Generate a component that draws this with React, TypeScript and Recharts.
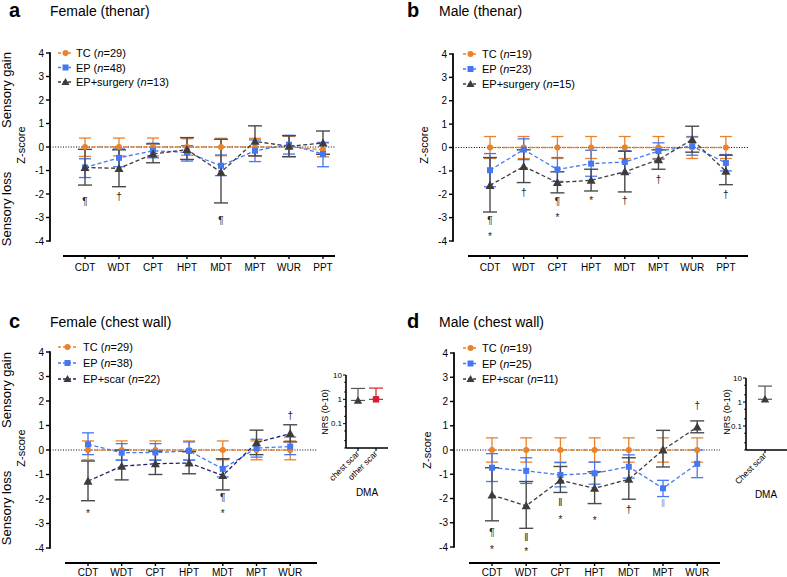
import React from "react";
import { ComposedChart, Line, Scatter, XAxis, YAxis, ErrorBar, ReferenceLine } from "recharts";

const THENAR = ["CDT", "WDT", "CPT", "HPT", "MDT", "MPT", "WUR", "PPT"];
const CHEST = ["CDT", "WDT", "CPT", "HPT", "MDT", "MPT", "WUR"];

// a — female thenar
const aTcMean = [0, 0, 0, 0, 0, 0, 0, -0.12];
const aTcLow = [-0.4, -0.38, -0.38, -0.35, -0.37, -0.38, -0.42, -0.42];
const aTcHigh = [0.38, 0.38, 0.38, 0.35, 0.37, 0.37, 0.45, 0.2];
const aEpMean = [-0.87, -0.46, -0.16, -0.23, -0.8, -0.16, 0.1, -0.3];
const aEpLow = [-1.3, -0.84, -0.46, -0.6, -1.22, -0.62, -0.3, -0.84];
const aEpHigh = [-0.5, -0.08, 0.16, 0.06, -0.34, 0.3, 0.5, 0.18];
const aSurgMean = [-0.87, -0.91, -0.3, -0.11, -1.07, 0.24, 0.03, 0.17];
const aSurgLow = [-1.62, -1.69, -0.67, -0.53, -2.38, -0.38, -0.41, -0.31];
const aSurgHigh = [-0.1, -0.12, 0.13, 0.4, 0.33, 0.9, 0.48, 0.68];
const aMarks = [
  { cat: "CDT", y: -2.3, s: "¶" },
  { cat: "WDT", y: -2.12, s: "†" },
  { cat: "MDT", y: -3.12, s: "¶" },
];

// b — male thenar
const bTcMean = [0, 0, 0, 0, 0, 0, 0, 0];
const bTcLow = [-0.47, -0.47, -0.47, -0.47, -0.47, -0.47, -0.47, -0.47];
const bTcHigh = [0.47, 0.47, 0.47, 0.47, 0.47, 0.47, 0.47, 0.47];
const bEpMean = [-0.97, -0.09, -0.94, -0.69, -0.62, -0.15, 0.06, -0.66];
const bEpLow = [-1.68, -0.52, -1.45, -1.23, -1.1, -0.5, -0.33, -1.0];
const bEpHigh = [-0.26, 0.37, -0.43, -0.12, -0.14, 0.2, 0.45, -0.3];
const bSurgMean = [-1.62, -0.81, -1.5, -1.4, -1.04, -0.52, 0.34, -1.02];
const bSurgLow = [-2.76, -1.5, -1.94, -1.86, -1.9, -0.93, -0.2, -1.59];
const bSurgHigh = [-0.43, -0.1, -1.04, -0.93, -0.16, -0.1, 0.91, -0.33];
const bMarks = [
  { cat: "CDT", y: -3.12, s: "¶" },
  { cat: "CDT", y: -3.68, s: "*" },
  { cat: "WDT", y: -1.94, s: "†" },
  { cat: "CPT", y: -2.33, s: "¶" },
  { cat: "CPT", y: -2.9, s: "*" },
  { cat: "HPT", y: -2.14, s: "*" },
  { cat: "MDT", y: -2.26, s: "†" },
  { cat: "MPT", y: -1.37, s: "†" },
  { cat: "PPT", y: -2.0, s: "†" },
];

// c — female chest wall
const cTcMean = [0, 0, 0, 0, 0, 0, 0];
const cTcLow = [-0.4, -0.4, -0.4, -0.4, -0.4, -0.4, -0.4];
const cTcHigh = [0.37, 0.37, 0.37, 0.37, 0.37, 0.37, 0.37];
const cEpMean = [0.23, -0.11, -0.1, -0.04, -0.77, 0.08, 0.14];
const cEpLow = [-0.19, -0.42, -0.42, -0.42, -1.1, -0.29, -0.19];
const cEpHigh = [0.7, 0.26, 0.26, 0.33, -0.36, 0.44, 0.53];
const cScarMean = [-1.27, -0.66, -0.56, -0.53, -1.04, 0.3, 0.67];
const cScarLow = [-2.07, -1.22, -1.0, -0.97, -1.63, -0.19, 0.33];
const cScarHigh = [-0.45, 0.0, -0.05, -0.07, -0.36, 0.81, 1.03];
const cMarks = [
  { cat: "CDT", y: -2.48, s: "*" },
  { cat: "MDT", y: -1.93, s: "¶" },
  { cat: "MDT", y: -2.48, s: "*" },
  { cat: "WUR", y: 1.42, s: "†" },
];

// d — male chest wall
const dTcMean = [0, 0, 0, 0, 0, 0, 0];
const dTcLow = [-0.5, -0.5, -0.5, -0.5, -0.5, -0.5, -0.5];
const dTcHigh = [0.5, 0.5, 0.5, 0.5, 0.5, 0.5, 0.5];
const dEpMean = [-0.73, -0.86, -1.03, -0.96, -0.69, -1.58, -0.57];
const dEpLow = [-1.3, -1.38, -1.52, -1.41, -1.16, -1.92, -1.14];
const dEpHigh = [-0.15, -0.32, -0.52, -0.5, -0.2, -1.25, 0.0];
const dScarMean = [-1.86, -2.3, -1.25, -1.58, -1.21, 0.0, 0.95];
const dScarLow = [-2.92, -3.23, -1.75, -2.21, -2.03, -0.7, 0.71];
const dScarHigh = [-0.73, -1.3, -0.68, -0.9, -0.32, 0.81, 1.2];
const dMarks = [
  { cat: "CDT", y: -3.4, s: "¶" },
  { cat: "CDT", y: -4.0, s: "*" },
  { cat: "WDT", y: -3.6, s: "‖" },
  { cat: "WDT", y: -4.08, s: "*" },
  { cat: "CPT", y: -2.16, s: "‖" },
  { cat: "CPT", y: -2.75, s: "*" },
  { cat: "HPT", y: -2.82, s: "*" },
  { cat: "MDT", y: -2.44, s: "†" },
  { cat: "MPT", y: -2.2, s: "‖", by: "EP" },
  { cat: "WUR", y: 1.84, s: "†" },
];

// DMA insets (NRS 0-10, log scale)
const cDmaCats = ["chest scar", "other scar"];
const cDmaValue = [0.9, 1.0];
const cDmaUpper = [2.8, 2.9];
const dDmaCats = ["Chest scar"];
const dDmaValue = [1.3];
const dDmaUpper = [4.6];

const ORANGE = "#E8822C";
const BLUE = "#4677F2";
const GRAY = "#3c3c3c";
const NAVY = "#20206a";
const RED = "#d3202f";
const FONT = '"Liberation Sans", Arial, Helvetica, sans-serif';

const circleDot = (color: string) => (p: any) =>
  <circle key={`c${p.index}`} cx={p.cx} cy={p.cy} r={3} fill={color} />;
const squareDot = (color: string) => (p: any) =>
  <rect key={`s${p.index}`} x={p.cx - 3} y={p.cy - 3} width={6} height={6} fill={color} />;
const triPath = (cx: number, cy: number, s = 4.5) =>
  `M${cx},${cy - s} L${cx + s},${cy + s * 0.78} L${cx - s},${cy + s * 0.78} Z`;
const triDot = (color: string) => (p: any) =>
  <path key={`t${p.index}`} d={triPath(p.cx, p.cy)} fill={color} />;

function MarkText(p: any) {
  const s = p.payload.s;
  return (
    <text
      x={p.cx}
      y={p.cy}
      dy={s === "*" ? "0.6em" : "0.35em"}
      textAnchor="middle"
      fontSize={10}
      fill={p.payload.by === "EP" ? "#a0a0a0" : "#222"}
    >
      {s}
    </text>
  );
}

type Stat = { mean: number[]; low: number[]; high: number[] };
type Geo = {
  axisX: number; firstX: number; step: number; right: number;
  lineStart: number; y4: number; yM4: number; axisY: number; labelGap: number;
};

function Panel({ geo, cats, tc, ep, grp, grpLine, marks }: {
  geo: Geo; cats: string[]; tc: Stat; ep: Stat; grp: Stat; grpLine: string; marks: any[];
}) {
  const unit = (geo.yM4 - geo.y4) / 8;
  const xDomain = [(geo.axisX - geo.firstX) / geo.step, (geo.right - geo.firstX) / geo.step];
  const yDomain = [-4 - (geo.axisY - geo.yM4) / unit, 4];
  const lineStartIdx = (geo.lineStart - geo.firstX) / geo.step;
  const err = (s: Stat, i: number) => [s.mean[i] - s.low[i], s.high[i] - s.mean[i]];
  const rows = cats.map((c, i) => ({
    i,
    tc: tc.mean[i], tcErr: err(tc, i),
    ep: ep.mean[i], epErr: err(ep, i),
    grp: grp.mean[i], grpErr: err(grp, i),
  }));
  const markRows = marks.map((m) => ({ ...m, i: cats.indexOf(m.cat) }));
  const W = 40 + (geo.right - geo.axisX) + 6;
  const H = 10 + (geo.axisY - geo.y4) + 25;
  return (
    <div style={{ position: "absolute", left: geo.axisX - 40, top: geo.y4 - 10 }}>
      <ComposedChart width={W} height={H} data={rows} margin={{ top: 10, right: 6, bottom: 0, left: 0 }}>
        <XAxis
          type="number"
          dataKey="i"
          domain={xDomain}
          allowDataOverflow
          ticks={cats.map((_, i) => i)}
          interval={0}
          tickFormatter={(v: number) => cats[v]}
          axisLine={false}
          tickSize={3}
          tickMargin={geo.labelGap}
          tickLine={{ stroke: "#000", strokeWidth: 1.4 }}
          tick={{ fontSize: 10, fill: "#000" }}
          height={25}
        />
        <YAxis
          type="number"
          domain={yDomain}
          allowDataOverflow
          ticks={[-4, -3, -2, -1, 0, 1, 2, 3, 4]}
          interval={0}
          axisLine={false}
          tickSize={4}
          tickMargin={2}
          tickLine={{ stroke: "#000", strokeWidth: 1.4 }}
          tick={{ fontSize: 10, fill: "#000" }}
          width={40}
        />
        <ReferenceLine
          segment={[{ x: xDomain[0], y: -4.03 }, { x: xDomain[0], y: 4.03 }]}
          stroke="#000"
          strokeWidth={1.8}
          ifOverflow="visible"
        />
        <ReferenceLine
          segment={[{ x: lineStartIdx, y: yDomain[0] }, { x: xDomain[1], y: yDomain[0] }]}
          stroke="#000"
          strokeWidth={1.8}
          ifOverflow="visible"
        />
        <ReferenceLine y={0} stroke="#000" strokeWidth={1} strokeDasharray="1 1.6" ifOverflow="visible" />
        <Line
          dataKey="tc"
          stroke={ORANGE}
          strokeWidth={1.3}
          strokeDasharray="4 2.5"
          dot={circleDot(ORANGE)}
          isAnimationActive={false}
        >
          <ErrorBar dataKey="tcErr" width={6} stroke={ORANGE} strokeWidth={1.3} direction="y" />
        </Line>
        <Line
          dataKey="ep"
          stroke={BLUE}
          strokeWidth={1.3}
          strokeDasharray="4 2.5"
          dot={squareDot(BLUE)}
          isAnimationActive={false}
        >
          <ErrorBar dataKey="epErr" width={6} stroke={BLUE} strokeWidth={1.3} direction="y" />
        </Line>
        <Line
          dataKey="grp"
          stroke={grpLine}
          strokeWidth={1.3}
          strokeDasharray="4 2.5"
          dot={triDot(GRAY)}
          isAnimationActive={false}
        >
          <ErrorBar dataKey="grpErr" width={7} stroke="#4a4a4a" strokeWidth={1.4} direction="y" />
        </Line>
        <Scatter data={markRows} dataKey="y" shape={(p: any) => <MarkText {...p} />} isAnimationActive={false} />
      </ComposedChart>
    </div>
  );
}

function LogTick({ x, y, payload }: any) {
  const v = payload.value;
  const major = v === 0.1 || v === 1 || v === 10;
  return (
    <g>
      <line x1={x} x2={x - (major ? 3 : 1.8)} y1={y} y2={y} stroke="#000" strokeWidth={1} />
      {major && (
        <text x={x - 4} y={y} dy="0.35em" textAnchor="end" fontSize={8} fill="#000">
          {v}
        </text>
      )}
    </g>
  );
}

function Inset({ axisX, top, bottom, right, firstX, cats, value, upper }: {
  axisX: number; top: number; bottom: number; right: number; firstX: number;
  cats: string[]; value: number[]; upper: number[];
}) {
  const step = 18;
  const xDomain = [(axisX - firstX) / step, (right - firstX) / step];
  const rows = cats.map((c, i) => ({ i, v: value[i], err: [0, upper[i] - value[i]] }));
  const W = 25 + (right - axisX) + 2;
  const H = 5 + (bottom - top) + 45;
  const RotTick = ({ x, y, payload }: any) => (
    <g transform={`translate(${x},${y})`}>
      <text transform="rotate(-45)" textAnchor="end" fontSize={8.5} fill="#000" x={0} y={0} dy={3}>
        {cats[payload.value]}
      </text>
    </g>
  );
  return (
    <div style={{ position: "absolute", left: axisX - 25, top: top - 5 }}>
      <ComposedChart width={W} height={H} data={rows} margin={{ top: 5, right: 2, bottom: 0, left: 0 }}>
        <XAxis
          type="number"
          dataKey="i"
          domain={xDomain}
          allowDataOverflow
          ticks={cats.map((_, i) => i)}
          interval={0}
          axisLine={{ stroke: "#000", strokeWidth: 1.6 }}
          tickLine={{ stroke: "#000", strokeWidth: 1.2 }}
          tickSize={3}
          tickMargin={1}
          tick={<RotTick />}
          height={45}
        />
        <YAxis
          type="number"
          scale="log"
          domain={[0.01, 10]}
          allowDataOverflow
          ticks={[0.01, 0.02, 0.05, 0.1, 0.2, 0.5, 1, 2, 5, 10]}
          interval={0}
          axisLine={{ stroke: "#000", strokeWidth: 1.6 }}
          tickLine={false}
          tickSize={0}
          tickMargin={0}
          tick={<LogTick />}
          width={25}
        />
        {rows.map((r) => (
          <Scatter
            key={r.i}
            data={[r]}
            dataKey="v"
            isAnimationActive={false}
            fill={r.i === 0 ? GRAY : RED}
            shape={(p: any) =>
              r.i === 0 ? (
                <path d={triPath(p.cx, p.cy, 4.2)} fill={GRAY} />
              ) : (
                <rect x={p.cx - 3.2} y={p.cy - 3.2} width={6.4} height={6.4} fill={RED} />
              )
            }
          >
            <ErrorBar dataKey="err" width={7} stroke={r.i === 0 ? "#555" : RED} strokeWidth={1.2} direction="y" />
          </Scatter>
        ))}
      </ComposedChart>
    </div>
  );
}

function LegendBox({ x, y, gap, lineLen, textOff, items }: any) {
  return (
    <g>
      {items.map((it: any, k: number) => {
        const cy = y + k * gap;
        const mx = x + lineLen / 2;
        return (
          <g key={k}>
            <line x1={x} x2={x + lineLen} y1={cy} y2={cy} stroke={it.line} strokeWidth={1.3} strokeDasharray="3 2" />
            {it.marker === "circle" && <circle cx={mx} cy={cy} r={3} fill={it.color} />}
            {it.marker === "square" && <rect x={mx - 3} y={cy - 3} width={6} height={6} fill={it.color} />}
            {it.marker === "tri" && <path d={triPath(mx, cy, 4)} fill={it.color} />}
            <text x={x + textOff} y={cy + 4} fontSize={11} fill="#000">
              {it.label} (<tspan fontStyle="italic">n</tspan>={it.n})
            </text>
          </g>
        );
      })}
    </g>
  );
}

const legendItems = (n: number[], third: string, thirdLine: string) => [
  { label: "TC", n: n[0], color: ORANGE, line: ORANGE, marker: "circle" },
  { label: "EP", n: n[1], color: BLUE, line: BLUE, marker: "square" },
  { label: third, n: n[2], color: GRAY, line: thirdLine, marker: "tri" },
];

function RotLabel({ x, y, size, children }: any) {
  return (
    <text transform={`translate(${x},${y}) rotate(-90)`} textAnchor="middle" fontSize={size} fill="#000">
      {children}
    </text>
  );
}

export default function App() {
  const geoA: Geo = { axisX: 50, firstX: 85, step: 34, right: 335, lineStart: 63, y4: 53, yM4: 241, axisY: 256, labelGap: 5 };
  const geoB: Geo = { axisX: 453, firstX: 490, step: 33.7, right: 748, lineStart: 468, y4: 54, yM4: 241, axisY: 256, labelGap: 5 };
  const geoC: Geo = { axisX: 50, firstX: 88, step: 33.7, right: 317, lineStart: 65, y4: 352, yM4: 548, axisY: 563, labelGap: 2.5 };
  const geoD: Geo = { axisX: 454, firstX: 492, step: 34.2, right: 720, lineStart: 469, y4: 353, yM4: 547, axisY: 563, labelGap: 2.5 };
  return (
    <div
      style={{
        position: "absolute", left: 0, top: 0, width: 787, height: 577,
        overflow: "hidden", background: "#fff", fontFamily: FONT,
      }}
    >
      <Panel geo={geoA} cats={THENAR} grpLine={GRAY} marks={aMarks}
        tc={{ mean: aTcMean, low: aTcLow, high: aTcHigh }}
        ep={{ mean: aEpMean, low: aEpLow, high: aEpHigh }}
        grp={{ mean: aSurgMean, low: aSurgLow, high: aSurgHigh }} />
      <Panel geo={geoB} cats={THENAR} grpLine={GRAY} marks={bMarks}
        tc={{ mean: bTcMean, low: bTcLow, high: bTcHigh }}
        ep={{ mean: bEpMean, low: bEpLow, high: bEpHigh }}
        grp={{ mean: bSurgMean, low: bSurgLow, high: bSurgHigh }} />
      <Panel geo={geoC} cats={CHEST} grpLine={NAVY} marks={cMarks}
        tc={{ mean: cTcMean, low: cTcLow, high: cTcHigh }}
        ep={{ mean: cEpMean, low: cEpLow, high: cEpHigh }}
        grp={{ mean: cScarMean, low: cScarLow, high: cScarHigh }} />
      <Panel geo={geoD} cats={CHEST} grpLine={GRAY} marks={dMarks}
        tc={{ mean: dTcMean, low: dTcLow, high: dTcHigh }}
        ep={{ mean: dEpMean, low: dEpLow, high: dEpHigh }}
        grp={{ mean: dScarMean, low: dScarLow, high: dScarHigh }} />
      <Inset axisX={346} top={375} bottom={448} right={388} firstX={358}
        cats={cDmaCats} value={cDmaValue} upper={cDmaUpper} />
      <Inset axisX={746} top={378} bottom={450} right={790} firstX={765}
        cats={dDmaCats} value={dDmaValue} upper={dDmaUpper} />

      <svg width={787} height={577} style={{ position: "absolute", left: 0, top: 0, pointerEvents: "none" }}>
        {/* panel letters and titles */}
        <text x={9} y={17} fontSize={20} fontWeight="bold">a</text>
        <text x={50} y={16} fontSize={14}>Female (thenar)</text>
        <text x={407} y={17} fontSize={20} fontWeight="bold">b</text>
        <text x={439} y={16} fontSize={14}>Male (thenar)</text>
        <text x={9} y={328} fontSize={20} fontWeight="bold">c</text>
        <text x={50} y={327} fontSize={14}>Female (chest wall)</text>
        <text x={407} y={328} fontSize={20} fontWeight="bold">d</text>
        <text x={439} y={327} fontSize={14}>Male (chest wall)</text>

        {/* side labels */}
        <RotLabel x={11} y={90} size={13}>Sensory gain</RotLabel>
        <RotLabel x={11} y={209} size={13}>Sensory loss</RotLabel>
        <RotLabel x={25} y={145} size={11}>Z-score</RotLabel>
        <RotLabel x={428} y={145} size={11}>Z-score</RotLabel>
        <RotLabel x={11} y={390} size={13}>Sensory gain</RotLabel>
        <RotLabel x={11} y={508} size={13}>Sensory loss</RotLabel>
        <RotLabel x={25} y={448} size={11}>Z-score</RotLabel>
        <RotLabel x={431} y={450} size={11}>Z-score</RotLabel>

        {/* inset labels */}
        <RotLabel x={328} y={412} size={9}>NRS (0-10)</RotLabel>
        <RotLabel x={730} y={412} size={9}>NRS (0-10)</RotLabel>
        <text x={367} y={496} fontSize={10} textAnchor="middle">DMA</text>
        <text x={766} y={498} fontSize={10} textAnchor="middle">DMA</text>

        {/* legends */}
        <LegendBox x={58} y={53} gap={14.5} lineLen={15} textOff={18} items={legendItems([29, 48, 13], "EP+surgery", GRAY)} />
        <LegendBox x={463} y={54} gap={15} lineLen={15} textOff={19} items={legendItems([19, 23, 15], "EP+surgery", GRAY)} />
        <LegendBox x={58} y={347} gap={16} lineLen={19} textOff={25} items={legendItems([29, 38, 22], "EP+scar", NAVY)} />
        <LegendBox x={463} y={348} gap={15.5} lineLen={15} textOff={19} items={legendItems([19, 25, 11], "EP+scar", GRAY)} />
      </svg>
    </div>
  );
}
